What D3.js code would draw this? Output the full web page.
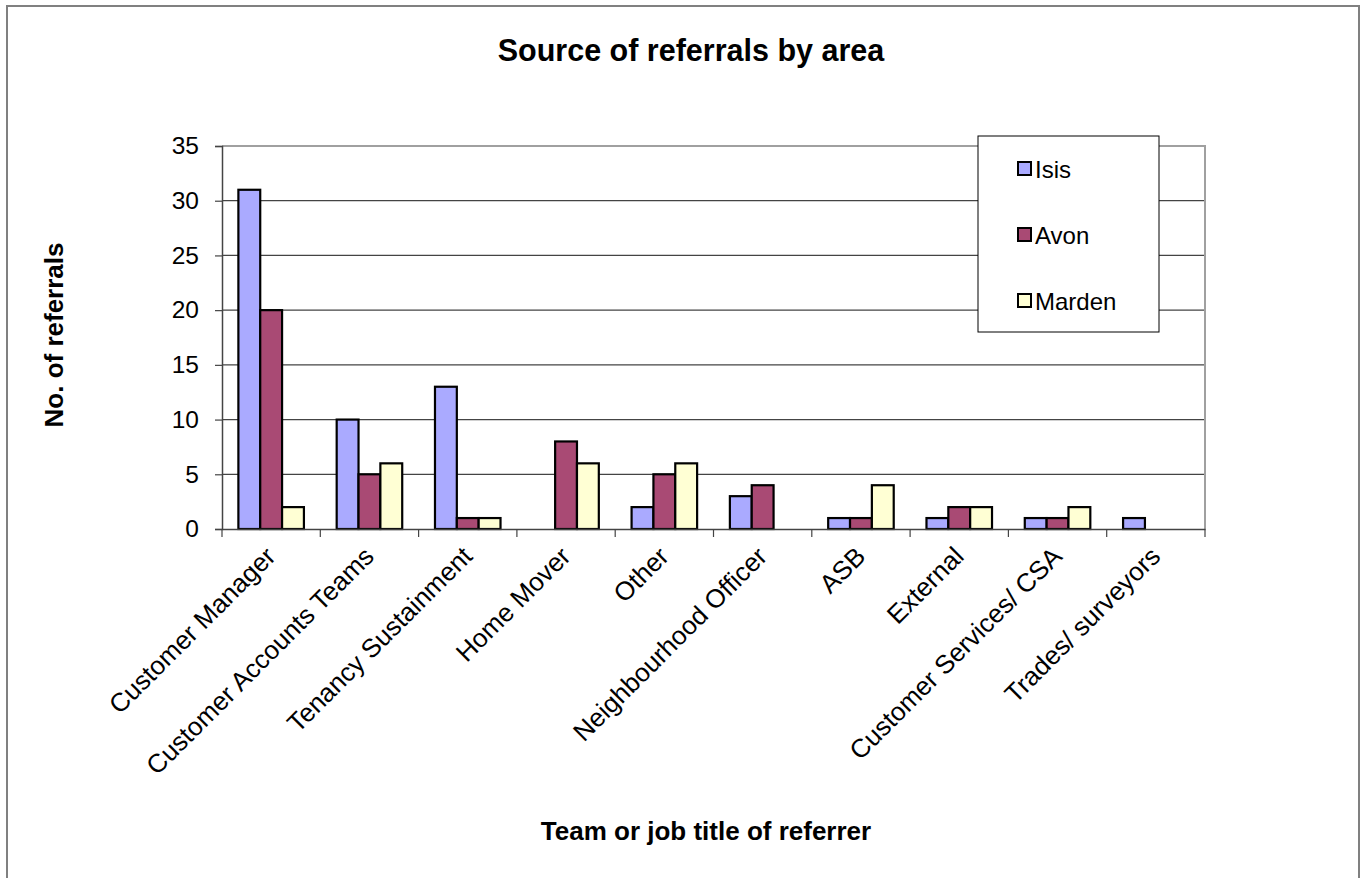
<!DOCTYPE html>
<html>
<head>
<meta charset="utf-8">
<script src="https://cdn.jsdelivr.net/npm/d3@7/dist/d3.min.js"></script>
<style>
  html, body { margin: 0; padding: 0; background: #fff; }
  svg { display: block; font-family: "Liberation Sans", Arial, sans-serif; }
</style>
</head>
<body>
<svg id="chart" width="1363" height="878"></svg>
<script>
const categories = ["Customer Manager", "Customer Accounts Teams", "Tenancy Sustainment", "Home Mover", "Other", "Neighbourhood Officer", "ASB", "External", "Customer Services/ CSA", "Trades/ surveyors"];
const seriesNames = ["Isis", "Avon", "Marden"];
const isis   = [31, 10, 13, 0, 2, 3, 1, 1, 1, 1];
const avon   = [20, 5, 1, 8, 5, 4, 1, 2, 1, 0];
const marden = [2, 6, 1, 6, 6, 0, 4, 2, 2, 0];
const seriesColors = ["#aaaaff", "#a94a74", "#ffffd4"];
const yTicks = [0, 5, 10, 15, 20, 25, 30, 35];
const chartTitle = "Source of referrals by area";
const xTitle = "Team or job title of referrer";
const yTitle = "No. of referrals";

(function () {
const seriesValues = [isis, avon, marden];
const svg = d3.select("#chart");

// outer chart border
svg.append("path")
  .attr("d", "M7,890 V6 H1359 V890")
  .attr("fill", "none").attr("stroke", "#808080").attr("stroke-width", 2);

const pL = 222, pR = 1205, pT = 146, pB = 529;

const x = d3.scaleBand().domain(categories).range([pL, pR]).paddingInner(0).paddingOuter(0);
const bw = x.bandwidth() / 4.5;
const x1 = d3.scaleBand().domain(seriesNames).range([bw * 0.75, bw * 0.75 + bw * 3]);
const y = d3.scaleLinear().domain([0, 35]).range([pB, pT]);

// gridlines
svg.append("g").selectAll("line").data(yTicks.filter(d => d > 0 && d < 35)).join("line")
  .attr("x1", pL).attr("x2", pR)
  .attr("y1", d => y(d)).attr("y2", d => y(d))
  .attr("stroke", "#444").attr("stroke-width", 1.2);

// plot border top/right
svg.append("path")
  .attr("d", `M${pL},${pT} H${pR} V${pB}`)
  .attr("fill", "none").attr("stroke", "#a0a0a0").attr("stroke-width", 2);

// bars
const groups = svg.append("g").selectAll("g").data(categories).join("g")
  .attr("transform", d => `translate(${x(d)},0)`);
groups.selectAll("rect")
  .data((c, i) => seriesNames.map((s, j) => ({ s, v: seriesValues[j][i], j })).filter(d => d.v > 0))
  .join("rect")
  .attr("x", d => x1(d.s))
  .attr("width", x1.bandwidth())
  .attr("y", d => y(d.v))
  .attr("height", d => y(0) - y(d.v))
  .attr("fill", d => seriesColors[d.j])
  .attr("stroke", "#000").attr("stroke-width", 2.2);

// y axis
const yAxis = d3.axisLeft(y).tickValues(yTicks).tickSize(7).tickPadding(16).tickFormat(d3.format("d"));
const yg = svg.append("g").attr("transform", `translate(${pL},0)`).call(yAxis);
yg.select(".domain").attr("stroke", "#444").attr("stroke-width", 1.5);
yg.selectAll(".tick line").attr("stroke", "#444").attr("stroke-width", 1.2);
yg.selectAll(".tick text").attr("font-size", 24.5).attr("fill", "#000")
  .attr("font-family", "Liberation Sans, Arial, sans-serif");

// x axis
const xAxis = d3.axisBottom(x).tickSize(0).tickFormat("");
const xg = svg.append("g").attr("transform", `translate(0,${pB})`).call(xAxis);
xg.select(".domain").attr("stroke", "#444").attr("stroke-width", 1.5);
xg.selectAll(".tick").remove();
const bounds = categories.map(c => x(c)).concat([pR]);
svg.append("g").selectAll("line").data(bounds).join("line")
  .attr("x1", d => d).attr("x2", d => d)
  .attr("y1", pB).attr("y2", pB + 8)
  .attr("stroke", "#444").attr("stroke-width", 1.2);

// category labels
svg.append("g").selectAll("text").data(categories).join("text")
  .attr("transform", d => `translate(${x(d) + x.bandwidth() / 2 + 6},${pB + 29}) rotate(-45)`)
  .attr("text-anchor", "end")
  .attr("font-size", 26)
  .attr("fill", "#000")
  .text(d => d);

// titles
svg.append("text").attr("x", 691).attr("y", 61).attr("text-anchor", "middle")
  .attr("font-size", 30.5).attr("font-weight", "bold").text(chartTitle);
svg.append("text").attr("x", 706).attr("y", 840).attr("text-anchor", "middle")
  .attr("font-size", 26).attr("font-weight", "bold").text(xTitle);
svg.append("text").attr("transform", "translate(63,335) rotate(-90)").attr("text-anchor", "middle")
  .attr("font-size", 26).attr("font-weight", "bold").text(yTitle);

// legend
const lg = svg.append("g");
lg.append("rect").attr("x", 978).attr("y", 136).attr("width", 181).attr("height", 196)
  .attr("fill", "#fff").attr("stroke", "#000").attr("stroke-width", 1);
const ly = d3.scalePoint().domain(seriesNames).range([169, 301]);
lg.selectAll("rect.sw").data(seriesNames).join("rect").attr("class", "sw")
  .attr("x", 1018).attr("y", d => ly(d) - 7).attr("width", 13).attr("height", 13)
  .attr("fill", (d, i) => seriesColors[i]).attr("stroke", "#000").attr("stroke-width", 2);
lg.selectAll("text").data(seriesNames).join("text")
  .attr("x", 1035).attr("y", d => ly(d) + 9)
  .attr("font-size", 24).attr("fill", "#000").text(d => d);
})();
</script>
</body>
</html>
